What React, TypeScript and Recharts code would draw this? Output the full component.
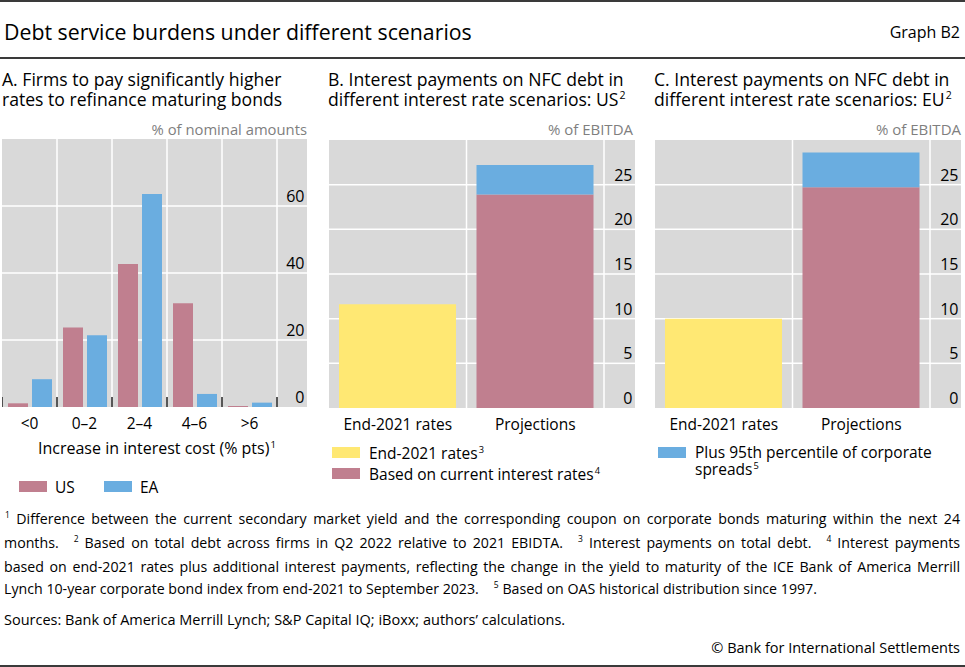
import React from "react";
import { BarChart, Bar, XAxis, YAxis, CartesianGrid } from "recharts";

const FONT = "'Open Sans', 'Noto Sans', sans-serif";
const PANEL_BG = "#d9d9d9";
const RED = "#c07f8f";
const BLUE = "#6aade0";
const YELLOW = "#ffe873";
const GREY_TEXT = "#7f7f7f";

// Panel A
const bucketLabels = ["<0", "0–2", "2–4", "4–6", ">6"];
const usShares = [1.1, 23.7, 42.7, 31.0, 0.3];
const eaShares = [8.3, 21.4, 63.6, 3.9, 1.3];
const shareTicks = [0, 20, 40, 60];

// Panels B and C
const scenarioLabels = ["End-2021 rates", "Projections"];
const usEnd2021 = [11.6, 0];
const usCurrent = [0, 23.9];
const usSpread95 = [0, 3.3];
const euEnd2021 = [10.0, 0];
const euCurrent = [0, 24.7];
const euSpread95 = [0, 3.9];
const ebitdaTicks = [0, 5, 10, 15, 20, 25];

const bucketData = bucketLabels.map((label, i) => ({ label, us: usShares[i], ea: eaShares[i] }));
const usData = scenarioLabels.map((label, i) => ({
  label,
  end2021: usEnd2021[i],
  current: usCurrent[i],
  spread95: usSpread95[i],
}));
const euData = scenarioLabels.map((label, i) => ({
  label,
  end2021: euEnd2021[i],
  current: euCurrent[i],
  spread95: euSpread95[i],
}));

type Box = { left: number; top: number; width: number; height: number; axisW: number };

const boxA: Box = { left: 2, top: 139, width: 275, height: 268, axisW: 30 };
const boxB: Box = { left: 329, top: 140, width: 275, height: 268, axisW: 31 };
const boxC: Box = { left: 655, top: 140, width: 275, height: 268, axisW: 31 };

const Sup = ({ children }: { children: React.ReactNode }) => (
  <span style={{ fontSize: "0.6em", position: "relative", top: "-0.65em", marginLeft: 1 }}>{children}</span>
);

function rightTick(axisW: number) {
  return (props: any) => {
    const { x, y, payload } = props;
    return (
      <g>
        {payload.value > 0 && <line x1={x} x2={x + axisW} y1={y} y2={y} stroke="#fff" strokeWidth={1.5} />}
        <text x={x + axisW - 2.5} y={y - 4} textAnchor="end" fontSize={16} fontFamily={FONT} fill="#000">
          {payload.value}
        </text>
      </g>
    );
  };
}

function bottomTick(band: number, count: number, marks: boolean) {
  return (props: any) => {
    const { x, y, payload, index } = props;
    return (
      <g>
        {marks && <line x1={x - band / 2} x2={x - band / 2} y1={y - 10} y2={y} stroke="#222" strokeWidth={1.5} />}
        {marks && index === count - 1 && (
          <line x1={x + band / 2} x2={x + band / 2} y1={y - 10} y2={y} stroke="#222" strokeWidth={1.5} />
        )}
        <text x={x} y={y + 21.5} textAnchor="middle" fontSize={15.5} fontFamily={FONT} fill="#000">
          {payload.value}
        </text>
      </g>
    );
  };
}

function Frame({ box, domain, ticks, data, count, marks, children }: any) {
  const max = domain[1];
  return (
    <>
      <div
        style={{
          position: "absolute",
          left: box.left,
          top: box.top,
          width: box.width + box.axisW,
          height: box.height,
          background: PANEL_BG,
        }}
      />
      <div style={{ position: "absolute", left: box.left, top: box.top }}>
        <BarChart
          width={box.width + box.axisW}
          height={box.height + 50}
          data={data}
          margin={{ top: 0, left: 0, right: 0, bottom: 0 }}
          barGap={4}
          style={{ overflow: "visible" }}
        >
          <CartesianGrid
            stroke="#fff"
            strokeWidth={1.5}
            fill="none"
            verticalCoordinatesGenerator={({ offset }: any) =>
              data.map((_: any, i: number) => offset.left + ((i + 1) * offset.width) / count)
            }
            horizontalCoordinatesGenerator={({ offset }: any) =>
              ticks.filter((v: number) => v > 0).map((v: number) => offset.top + offset.height * (1 - v / max))
            }
          />
          <XAxis
            dataKey="label"
            axisLine={false}
            tickLine={false}
            tickSize={0}
            tickMargin={0}
            interval={0}
            height={50}
            tick={bottomTick(box.width / count, count, marks)}
          />
          <YAxis
            orientation="right"
            type="number"
            domain={domain}
            ticks={ticks}
            width={box.axisW}
            axisLine={false}
            tickLine={false}
            tickSize={0}
            tickMargin={0}
            interval={0}
            tick={rightTick(box.axisW)}
          />
          {children}
        </BarChart>
      </div>
    </>
  );
}

const Swatch = ({ x, y, color }: { x: number; y: number; color: string }) => (
  <div style={{ position: "absolute", left: x, top: y, width: 28, height: 11, background: color }} />
);

const Text = ({ x, y, size, children, style }: any) => (
  <div
    style={{
      position: "absolute",
      left: x,
      top: y - 10,
      lineHeight: "20px",
      fontSize: size,
      whiteSpace: "nowrap",
      ...style,
    }}
  >
    {children}
  </div>
);

const gap = <span style={{ display: "inline-block", width: 14 }} />;
const titleStyle: React.CSSProperties = {
  position: "absolute",
  top: 69,
  fontSize: 17.6,
  lineHeight: "20px",
  whiteSpace: "nowrap",
};
const justified: React.CSSProperties = { textAlign: "justify", textAlignLast: "justify", whiteSpace: "nowrap" };

export default function App() {
  return (
    <div
      style={{
        position: "absolute",
        left: 0,
        top: 0,
        width: 965,
        height: 667,
        background: "#fff",
        fontFamily: FONT,
        color: "#000",
        overflow: "hidden",
      }}
    >
      <div style={{ position: "absolute", left: 0, top: 0, width: 965, height: 2, background: "#3a3a3a" }} />
      <div style={{ position: "absolute", left: 0, top: 57, width: 965, height: 2, background: "#3a3a3a" }} />
      <div style={{ position: "absolute", left: 0, top: 665, width: 965, height: 2, background: "#3a3a3a" }} />

      <Text x={4} y={32} size={21.3}>Debt service burdens under different scenarios</Text>
      <Text x={0} y={32} size={16} style={{ left: "auto", right: 5 }}>Graph B2</Text>

      {/* Panel titles */}
      <div style={{ ...titleStyle, left: 2 }}>
        A. Firms to pay significantly higher
        <br />
        rates to refinance maturing bonds
      </div>
      <div style={{ ...titleStyle, left: 328 }}>
        B. Interest payments on NFC debt in
        <br />
        different interest rate scenarios: US<Sup>2</Sup>
      </div>
      <div style={{ ...titleStyle, left: 654 }}>
        C. Interest payments on NFC debt in
        <br />
        different interest rate scenarios: EU<Sup>2</Sup>
      </div>

      {/* Units */}
      <Text x={0} y={129} size={14.8} style={{ left: "auto", right: 965 - 307, color: GREY_TEXT }}>
        % of nominal amounts
      </Text>
      <Text x={0} y={129} size={15} style={{ left: "auto", right: 965 - 633, color: GREY_TEXT }}>
        % of EBITDA
      </Text>
      <Text x={0} y={129} size={15} style={{ left: "auto", right: 965 - 961, color: GREY_TEXT }}>
        % of EBITDA
      </Text>

      <Frame box={boxA} domain={[0, 80]} ticks={shareTicks} data={bucketData} count={bucketLabels.length} marks>
        <Bar dataKey="us" fill={RED} barSize={20} isAnimationActive={false} />
        <Bar dataKey="ea" fill={BLUE} barSize={20} isAnimationActive={false} />
      </Frame>
      <Frame box={boxB} domain={[0, 30]} ticks={ebitdaTicks} data={usData} count={scenarioLabels.length} marks={false}>
        <Bar dataKey="end2021" stackId="s" fill={YELLOW} barSize={117} isAnimationActive={false} />
        <Bar dataKey="current" stackId="s" fill={RED} barSize={117} isAnimationActive={false} />
        <Bar dataKey="spread95" stackId="s" fill={BLUE} barSize={117} isAnimationActive={false} />
      </Frame>
      <Frame box={boxC} domain={[0, 30]} ticks={ebitdaTicks} data={euData} count={scenarioLabels.length} marks={false}>
        <Bar dataKey="end2021" stackId="s" fill={YELLOW} barSize={117} isAnimationActive={false} />
        <Bar dataKey="current" stackId="s" fill={RED} barSize={117} isAnimationActive={false} />
        <Bar dataKey="spread95" stackId="s" fill={BLUE} barSize={117} isAnimationActive={false} />
      </Frame>

      {/* Panel A axis title and legend */}
      <Text x={0} y={448} size={16} style={{ left: 38, width: 233, textAlign: "center" }}>
        Increase in interest cost (% pts)<Sup>1</Sup>
      </Text>
      <Swatch x={19} y={481} color={RED} />
      <Text x={55} y={487} size={15.5}>US</Text>
      <Swatch x={104} y={481} color={BLUE} />
      <Text x={140} y={487} size={15.5}>EA</Text>

      {/* Panel B legend */}
      <Swatch x={332} y={447} color={YELLOW} />
      <Text x={369} y={453} size={15.5}>End-2021 rates<Sup>3</Sup></Text>
      <Swatch x={332} y={468} color={RED} />
      <Text x={369} y={474} size={15.5}>Based on current interest rates<Sup>4</Sup></Text>

      {/* Panel C legend */}
      <Swatch x={658} y={447} color={BLUE} />
      <div style={{ position: "absolute", left: 695, top: 444, fontSize: 15.5, lineHeight: "17px", whiteSpace: "nowrap" }}>
        Plus 95th percentile of corporate
        <br />
        spreads<Sup>5</Sup>
      </div>

      {/* Footnotes */}
      <div style={{ position: "absolute", left: 4, top: 508, width: 956, fontSize: 14.2, lineHeight: "22px" }}>
        <div style={justified}>
          <Sup>1</Sup> Difference between the current secondary market yield and the corresponding coupon on corporate bonds maturing within the next 24
        </div>
        <div style={justified}>
          months.{gap}<Sup>2</Sup> Based on total debt across firms in Q2 2022 relative to 2021 EBIDTA.{gap}<Sup>3</Sup> Interest payments on total debt.{gap}<Sup>4</Sup> Interest payments
        </div>
        <div style={justified}>
          based on end-2021 rates plus additional interest payments, reflecting the change in the yield to maturity of the ICE Bank of America Merrill
        </div>
        <div style={{ whiteSpace: "nowrap" }}>
          Lynch 10-year corporate bond index from end-2021 to September 2023.{gap}<Sup>5</Sup> Based on OAS historical distribution since 1997.
        </div>
      </div>
      <Text x={4} y={620} size={14.5}>Sources: Bank of America Merrill Lynch; S&amp;P Capital IQ; iBoxx; authors’ calculations.</Text>
      <Text x={0} y={648} size={14.5} style={{ left: "auto", right: 5 }}>© Bank for International Settlements</Text>
    </div>
  );
}
